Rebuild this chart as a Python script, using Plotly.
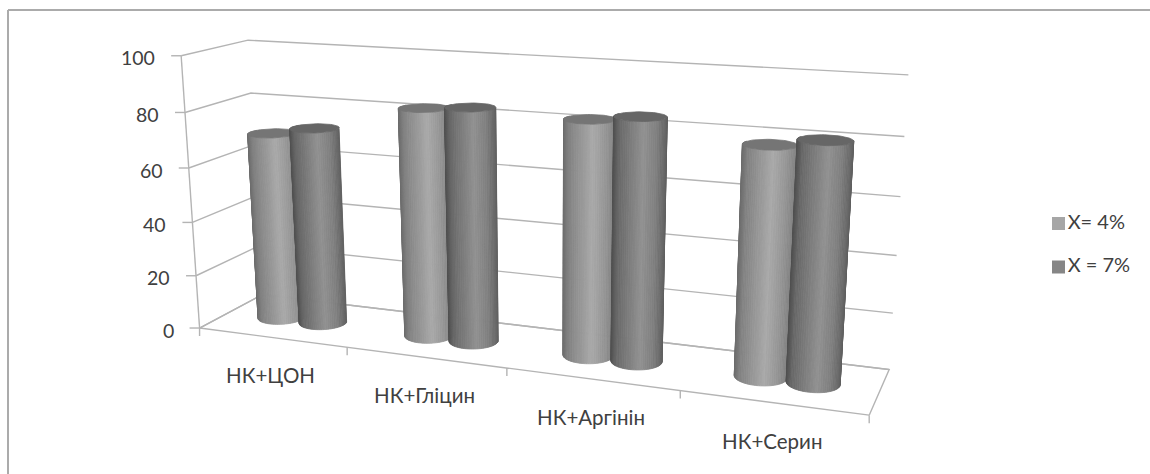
import numpy as np
import plotly.graph_objects as go

CATEGORIES = ["НК+ЦОН", "НК+Гліцин", "НК+Аргінін", "НК+Серин"]
SERIES_NAMES = ["X= 4%", "X = 7%"]
VALUES_4 = [70, 83, 83, 78.7]
VALUES_7 = [73, 84.3, 85, 81.4]
VALUE_TICKS = [0, 20, 40, 60, 80, 100]

# Perspective camera for the 3-D box: (x across, depth, height/100) to page pixels.
CAMERA = np.array([
    [537.630633, 81.61041, -27.390292, 199.567079],
    [24.109871, -11.885863, -275.020676, 328.016094],
    [-0.151871, 0.072725, -0.04961, 1.0],
])


def project(x, y, value):
    x, y, z = np.broadcast_arrays(x, y, np.asarray(value, float) / 100.0)
    h = CAMERA @ np.vstack([x.ravel(), y.ravel(), z.ravel(), np.ones(x.size)])
    return h[0] / h[2], h[1] / h[2]


GRID = "#b4b4b4"
TEXT = "#404040"
FONT = "Lato"
RADIUS_X = 0.036
RADIUS_Y = 0.2
DEPTH = 0.5
SIDE_SHADES = [
    ([0, .1, .55, .8, 1], [108, 130, 170, 150, 126]),
    ([0, .1, .55, .8, 1], [80, 104, 146, 128, 96]),
]
CAP_SHADES = ["#757575", "#666666"]
KEY_COLORS = ["#a6a6a6", "#868686"]
KEY_X = 1058.5
KEY_ROWS = [223.5, 267]

fig = go.Figure()


def polyline(xs, ys, color=GRID, width=1.4):
    fig.add_trace(go.Scatter(x=xs, y=ys, mode="lines", line=dict(color=color, width=width),
                             hoverinfo="skip", showlegend=False))


# Walls and floor
for v in VALUE_TICKS:
    xs, ys = project([0, 0, 1], [0, 1, 1], [v, v, v])
    polyline(xs, ys)
xs, ys = project([0, 0], [0, 0], [0, 100])
polyline(xs, ys)
xs, ys = project([1, 0, 0, 1, 1], [0, 0, 1, 1, 0], [0, 0, 0, 0, 0])
polyline(xs, ys)

# Tick marks on both axes
for v in VALUE_TICKS:
    px, py = project(0, 0, v)
    polyline([px[0] - 10, px[0]], [py[0], py[0]])
for i in range(len(CATEGORIES) + 1):
    px, py = project(i / len(CATEGORIES), 0, 0)
    polyline([px[0], px[0]], [py[0], py[0] + 8])


def draw_cylinder(center, value, series):
    angles = np.radians(np.linspace(160, 380, 45))
    bx, by = project(center + RADIUS_X * np.cos(angles), DEPTH + RADIUS_Y * np.sin(angles), 0 * angles)
    tx, ty = project(center + RADIUS_X * np.cos(angles), DEPTH + RADIUS_Y * np.sin(angles), 0 * angles + value)
    mid = (bx + tx) / 2
    stops, shades = SIDE_SHADES[series]
    order = np.argsort(np.sin(angles[:-1] + np.diff(angles) / 2))[::-1]
    for k in order:
        t = ((mid[k] + mid[k + 1]) / 2 - mid.min()) / (mid.max() - mid.min())
        g = int(np.interp(t, stops, shades))
        c = f"rgb({g},{g},{g})"
        fig.add_trace(go.Scatter(
            x=[bx[k], bx[k + 1], tx[k + 1], tx[k], bx[k]],
            y=[by[k], by[k + 1], ty[k + 1], ty[k], by[k]],
            mode="lines", fill="toself", fillcolor=c, line=dict(color=c, width=0.8),
            hoverinfo="skip", showlegend=False))
    ring = np.radians(np.linspace(0, 360, 61))
    cx, cy = project(center + RADIUS_X * np.cos(ring), DEPTH + RADIUS_Y * np.sin(ring), 0 * ring + value)
    fig.add_trace(go.Scatter(x=cx, y=cy, mode="lines", fill="toself", fillcolor=CAP_SHADES[series],
                             line=dict(color=CAP_SHADES[series], width=0.8),
                             hoverinfo="skip", showlegend=False))


for i, (a, b) in enumerate(zip(VALUES_4, VALUES_7)):
    group = (i + 0.5) / len(CATEGORIES)
    draw_cylinder(group - RADIUS_X, a, 0)
    draw_cylinder(group + RADIUS_X, b, 1)

# Series key at the right
for name, color, row in zip(SERIES_NAMES, KEY_COLORS, KEY_ROWS):
    fig.add_trace(go.Scatter(x=[KEY_X], y=[row], mode="markers+text", name=name, text=[name],
                             textposition="middle right", textfont=dict(family=FONT, size=20, color=TEXT),
                             marker=dict(symbol="square", size=13, color=color),
                             hoverinfo="skip", showlegend=False))

annotations = []
for v in VALUE_TICKS:
    px, py = project(0, 0, v)
    annotations.append(dict(x=px[0] - 24, y=py[0] + 2, text=str(v), xanchor="right", yanchor="middle",
                            showarrow=False, xref="x", yref="y"))
for i, name in enumerate(CATEGORIES):
    px, py = project((i + 0.5) / len(CATEGORIES), 0, 0)
    annotations.append(dict(x=px[0] - 1, y=py[0] + 38, text=name, xanchor="center", yanchor="middle",
                            showarrow=False, xref="x", yref="y", font=dict(size=20.5)))

fig.update_layout(
    width=1150, height=474, margin=dict(l=0, r=0, t=0, b=0),
    paper_bgcolor="white", plot_bgcolor="white", showlegend=False,
    font=dict(family=FONT, size=19.5, color=TEXT),
    xaxis=dict(range=[0, 1150], visible=False),
    yaxis=dict(range=[474, 0], visible=False),
    annotations=annotations,
    shapes=[
        dict(type="line", xref="x", yref="y", x0=8, y0=10, x1=1150, y1=10, line=dict(color="#ababab", width=2)),
        dict(type="line", xref="x", yref="y", x0=8, y0=10, x1=8, y1=474, line=dict(color="#ababab", width=2)),
    ],
)

fig.write_html("out.html")
